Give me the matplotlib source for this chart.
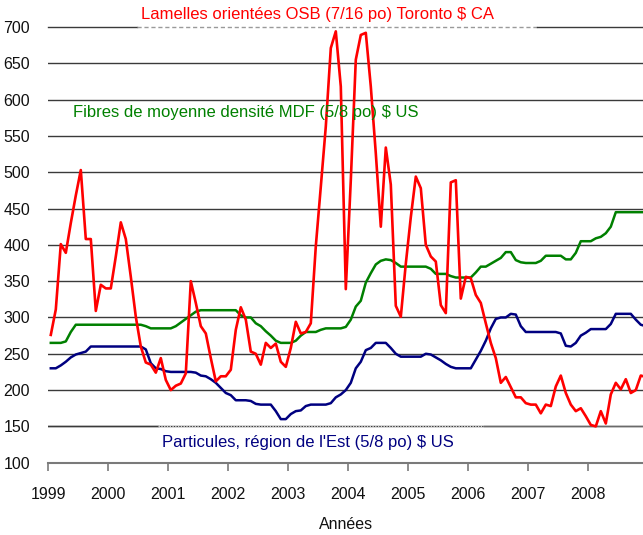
import numpy as np
import matplotlib
matplotlib.use("Agg")
import matplotlib.pyplot as plt

plt.rcParams['font.family'] = ['Liberation Sans', 'DejaVu Sans']

# Monthly prices, January 1999 to December 2008
start_year = 1999
n_months = 120

osb_toronto = [
    276, 311, 401, 389, 430, 468, 503, 408, 408, 309, 345, 340,
    340, 384, 431, 408, 356, 301, 260, 238, 235, 224, 244, 214,
    200, 206, 209, 223, 350, 320, 288, 278, 244, 212, 219, 219,
    228, 283, 314, 297, 253, 250, 235, 265, 258, 264, 239, 232,
    258, 294, 278, 280, 292, 398, 480, 563, 671, 694, 618, 339,
    489, 655, 689, 692, 618, 526, 425, 534, 483, 316, 301, 374,
    438, 494, 478, 400, 384, 377, 317, 306, 486, 489, 326, 356,
    354, 331, 320, 292, 265, 244, 210, 218, 204, 190, 190, 182,
    180, 180, 168, 180, 178, 205, 220, 196, 180, 171, 175, 164,
    152, 150, 171, 154, 194, 210, 201, 215, 196, 200, 220, 218,
]

mdf_us = [
    265, 265, 265, 267, 280, 290, 290, 290, 290, 290, 290, 290,
    290, 290, 290, 290, 290, 290, 290, 288, 285, 285, 285, 285,
    285, 288, 293, 298, 303, 308, 310, 310, 310, 310, 310, 310,
    310, 310, 303, 300, 300, 292, 288, 281, 275, 268, 265, 265,
    265, 268, 275, 280, 280, 280, 283, 285, 285, 285, 285, 287,
    297, 315, 323, 348, 361, 373, 378, 380, 379, 375, 370, 370,
    370, 370, 370, 370, 367, 360, 360, 360, 357, 355, 355, 355,
    355, 362, 370, 370, 374, 378, 382, 390, 390, 379, 376, 375,
    375, 375, 378, 385, 385, 385, 385, 380, 380, 389, 405, 405,
    405, 409, 411, 416, 425, 445, 445, 445, 445, 445, 445, 445,
]

particules_est = [
    230, 230, 234, 239, 245, 249, 251, 253, 260, 260, 260, 260,
    260, 260, 260, 260, 260, 260, 260, 256, 237, 230, 229, 226,
    225, 225, 225, 225, 225, 224, 220, 219, 215, 210, 203, 196,
    193, 186, 186, 186, 185, 181, 180, 180, 180, 171, 160, 160,
    167, 171, 172, 178, 180, 180, 180, 180, 182, 190, 194, 200,
    210, 230, 239, 255, 258, 265, 265, 265, 258, 250, 246, 246,
    246, 246, 246, 250, 249, 245, 241, 236, 232, 230, 230, 230,
    230, 242, 254, 268, 285, 298, 300, 300, 305, 304, 288, 280,
    280, 280, 280, 280, 280, 280, 278, 261, 260, 265, 275, 279,
    284, 284, 284, 284, 291, 305, 305, 305, 305, 297, 290, 288,
]

year_ticks = list(range(1999, 2009))
y_ticks = list(range(100, 701, 50))

title_osb = "Lamelles orientées OSB (7/16 po) Toronto $ CA"
label_mdf = "Fibres de moyenne densité MDF (5/8 po) $ US"
label_part = "Particules, région de l'Est (5/8 po) $ US"
x_title = "Années"

# each monthly value sits in the middle of its month
x = start_year + (np.arange(n_months) + 0.5) / 12.0

W, H = 643, 535
fig = plt.figure(figsize=(W / 100, H / 100), dpi=100)
ax_left, ax_right = 48.3 / W, 1.0
ax_bottom, ax_top = 1 - 462.7 / H, 1 - 27.0 / H
ax = fig.add_axes([ax_left, ax_bottom, ax_right - ax_left, ax_top - ax_bottom])

x_end = 1999 + (W - 48.3) / 60.0
ax.set_xlim(1999, x_end)
ax.set_ylim(100, 700)

# horizontal grid; two levels are partly hidden under the label boxes
grid_kw = dict(color='#3a3a3a', lw=1.0, zorder=1)
for v in y_ticks[1:-1]:
    ax.axhline(v, **grid_kw)
# top line: dashed where the OSB caption box sits
ax.plot([1999, 2000.478], [700, 700], clip_on=False, **grid_kw)
ax.plot([2000.478, 2007.14], [700, 700], color='#9a9a9a', lw=1.0,
        ls=(0, (3, 2)), clip_on=False, zorder=1)
ax.plot([2007.14, x_end], [700, 700], clip_on=False, **grid_kw)

ax.plot(x, particules_est, color='#000080', lw=1.8, zorder=3)
ax.plot(x, mdf_us, color='#008000', lw=1.8, zorder=3)
ax.plot(x, osb_toronto, color='#FF0000', lw=1.9, zorder=4)

# caption box for the particle board series over the 150 line
ax.axhline(150, xmin=0, xmax=(2000.828 - 1999) / (x_end - 1999), **grid_kw)
ax.plot([2000.828, 2006.262], [150, 150], color='#d0d0d0', lw=1.0,
        ls=(0, (1, 1)), zorder=1)
ax.plot([2006.262, x_end], [150, 150], color='#6a6a6a', lw=1.0, zorder=1)

for s in ['top', 'right', 'left']:
    ax.spines[s].set_visible(False)
ax.spines['bottom'].set_color('#7a7a7a')
ax.spines['bottom'].set_linewidth(1.5)

ax.set_xticks(year_ticks)
ax.set_xticklabels([str(y) for y in year_ticks])
ax.set_yticks(y_ticks)
ax.set_yticklabels([str(v) for v in y_ticks])
ax.tick_params(axis='x', direction='out', length=5.5, width=1.2,
               color='#7a7a7a', labelsize=11.5, pad=12, labelcolor='#111111')
ax.tick_params(axis='y', length=0, labelsize=11.5, pad=13,
               labelcolor='#111111')
for lab in ax.get_xticklabels() + ax.get_yticklabels():
    lab.set_clip_on(False)

ax.set_xlabel(x_title, fontsize=11.5, color='#111111', labelpad=11)

fig.text(317.5 / W, 1 - 14 / H, title_osb, color='#FF0000', fontsize=12,
         ha='center', va='center')
fig.text(246 / W, 1 - 112 / H, label_mdf, color='#008000', fontsize=12,
         ha='center', va='center')
fig.text(308 / W, 1 - 443 / H, label_part, color='#000080', fontsize=12,
         ha='center', va='center')

fig.savefig('out.png', dpi=100)
